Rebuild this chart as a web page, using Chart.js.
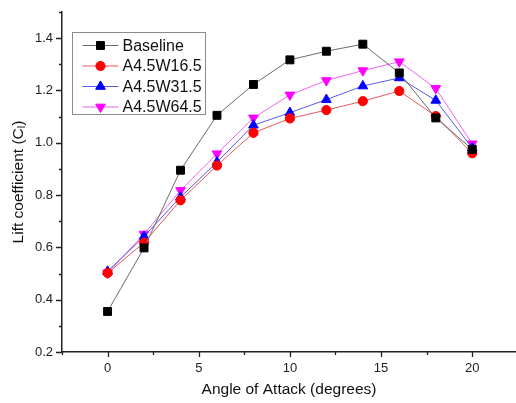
<!DOCTYPE html>
<html>
<head>
<meta charset="utf-8">
<script src="https://cdn.jsdelivr.net/npm/chart.js@4/dist/chart.umd.min.js"></script>
<style>
  html, body { margin: 0; padding: 0; background: #fff; overflow: hidden; }
  #wrap { width: 516px; height: 403px; position: relative; }
</style>
</head>
<body>
<div id="wrap"><canvas id="c" width="516" height="403"></canvas></div>
<script>
// Angle of attack (degrees)
const angles = [0, 2, 4, 6, 8, 10, 12, 14, 16, 18, 20];

// Lift coefficient per configuration
const baseline = [0.355, 0.598, 0.895, 1.105, 1.223, 1.317, 1.350, 1.377, 1.267, 1.095, 0.975];
const a45w165  = [0.502, 0.618, 0.780, 0.913, 1.038, 1.093, 1.125, 1.159, 1.198, 1.102, 0.960];
const a45w315  = [0.508, 0.642, 0.792, 0.926, 1.067, 1.115, 1.165, 1.217, 1.248, 1.162, 0.980];
const a45w645  = [0.502, 0.651, 0.818, 0.958, 1.095, 1.183, 1.238, 1.276, 1.310, 1.208, 0.996];

// Axis ticks (major ones get labels)
const xTicks = [-2.5, 0, 2.5, 5, 7.5, 10, 12.5, 15, 17.5, 20];
const xLabeled = [0, 5, 10, 15, 20];
const yTicks = [0.2, 0.3, 0.4, 0.5, 0.6, 0.7, 0.8, 0.9, 1.0, 1.1, 1.2, 1.3, 1.4, 1.5];
const yLabeled = [0.2, 0.4, 0.6, 0.8, 1.0, 1.2, 1.4];

const seriesNames = ['Baseline', 'A4.5W16.5', 'A4.5W31.5', 'A4.5W64.5'];

const FONT = "'Liberation Sans', Arial, sans-serif";
const pts = arr => angles.map((a, i) => ({ x: a, y: arr[i] }));
const near = (v, list) => list.some(t => Math.abs(t - v) < 1e-6);

function series(label, data, line, fill, style, radius, rotation) {
  return {
    label, data: pts(data),
    borderColor: line, borderWidth: 1,
    pointStyle: style, pointRadius: radius, pointHoverRadius: radius,
    pointRotation: rotation || 0,
    pointBackgroundColor: fill, pointBorderColor: fill, pointBorderWidth: 1,
    tension: 0, fill: false
  };
}

const datasets = [
  series(seriesNames[0], baseline, '#6a6a6a', '#000000', 'rect', 5.6),
  series(seriesNames[1], a45w165, '#e65a5a', '#ff0000', 'circle', 4.6),
  series(seriesNames[2], a45w315, '#5a5ae6', '#0000ff', 'triangle', 5.6),
  series(seriesNames[3], a45w645, '#ee66ee', '#ff00ff', 'triangle', 5.6, 180)
];

// Outward tick marks: long for labelled values, short for the rest
const tickMarks = {
  id: 'tickMarks',
  afterDraw(chart) {
    const ctx = chart.ctx;
    const xs = chart.scales.x, ys = chart.scales.y;
    ctx.save();
    ctx.strokeStyle = '#222';
    ctx.lineWidth = 1.3;
    ctx.beginPath();
    xTicks.forEach(v => {
      const px = Math.round(xs.getPixelForValue(v)) + 0.5;
      const len = near(v, xLabeled) ? 5 : 3;
      ctx.moveTo(px, xs.top);
      ctx.lineTo(px, xs.top + len);
    });
    yTicks.forEach(v => {
      const py = Math.round(ys.getPixelForValue(v)) + 0.5;
      const len = near(v, yLabeled) ? 6 : 3;
      ctx.moveTo(ys.right, py);
      ctx.lineTo(ys.right - len, py);
    });
    ctx.stroke();
    ctx.restore();
  }
};

// Boxed legend with line + marker samples, inside the plot
const boxLegend = {
  id: 'boxLegend',
  afterDraw(chart) {
    const ctx = chart.ctx;
    const ca = chart.chartArea;
    const x0 = ca.left + 10.5, y0 = ca.top + 20.5, w = 133, h = 82;
    ctx.save();
    ctx.strokeStyle = '#8a8a8a';
    ctx.lineWidth = 1;
    ctx.strokeRect(x0, y0, w, h);
    chart.data.datasets.forEach((ds, i) => {
      const y = y0 + 13 + i * 20.5;
      ctx.strokeStyle = ds.borderColor;
      ctx.lineWidth = 1;
      ctx.beginPath();
      ctx.moveTo(x0 + 10, y);
      ctx.lineTo(x0 + 46, y);
      ctx.stroke();
      ctx.fillStyle = ds.pointBackgroundColor;
      ctx.strokeStyle = ds.pointBorderColor;
      Chart.helpers.drawPoint(ctx, {
        pointStyle: ds.pointStyle, radius: ds.pointRadius,
        rotation: ds.pointRotation, borderWidth: 1
      }, x0 + 28, y);
      ctx.fillStyle = '#111';
      ctx.font = '16px ' + FONT;
      ctx.textBaseline = 'middle';
      ctx.textAlign = 'left';
      ctx.fillText(ds.label, x0 + 50, y + 1);
    });
    ctx.restore();
  }
};

// Rotated y-axis title with a subscript
const yTitle = {
  id: 'yTitle',
  afterDraw(chart) {
    const ctx = chart.ctx;
    const ca = chart.chartArea;
    const big = '15.5px ' + FONT, small = '11px ' + FONT;
    const parts = [['Lift coefficient (C', big, 0], ['l', small, 3], [')', big, 0]];
    ctx.save();
    let total = 0;
    parts.forEach(p => { ctx.font = p[1]; total += ctx.measureText(p[0]).width; });
    ctx.translate(18, (ca.top + ca.bottom) / 2);
    ctx.rotate(-Math.PI / 2);
    ctx.fillStyle = '#111';
    ctx.textBaseline = 'middle';
    ctx.textAlign = 'left';
    let x = -total / 2;
    parts.forEach(p => {
      ctx.font = p[1];
      ctx.fillText(p[0], x, p[2] + 1);
      x += ctx.measureText(p[0]).width;
    });
    ctx.restore();
  }
};

new Chart(document.getElementById('c'), {
  type: 'line',
  data: { datasets },
  options: {
    responsive: false,
    animation: false,
    layout: { autoPadding: false, padding: { top: 12, right: 0, left: 0, bottom: 0 } },
    plugins: { legend: { display: false }, tooltip: { enabled: false } },
    scales: {
      x: {
        type: 'linear', min: -2.5, max: 22.4,
        afterBuildTicks: s => { s.ticks = xTicks.map(v => ({ value: v })); },
        afterFit: s => { s.height = 51; s.paddingLeft = 0; s.paddingRight = 0; },
        grid: { drawOnChartArea: false, drawTicks: false },
        border: { color: '#222', width: 1.5 },
        ticks: {
          autoSkip: false, maxRotation: 0, padding: 9,
          color: '#222', font: { family: FONT, size: 13 },
          callback: v => near(v, xLabeled) ? String(Math.round(v)) : ''
        },
        title: {
          display: true, text: 'Angle of Attack (degrees)',
          color: '#111', font: { family: FONT, size: 15.5 }, padding: { top: 5 }
        }
      },
      y: {
        type: 'linear', min: 0.2, max: 1.5,
        afterBuildTicks: s => { s.ticks = yTicks.map(v => ({ value: v })); },
        afterFit: s => { s.width = 62; s.paddingTop = 0; s.paddingBottom = 0; },
        grid: { drawOnChartArea: false, drawTicks: false },
        border: { color: '#222', width: 1.5 },
        ticks: {
          autoSkip: false, padding: 9,
          color: '#222', font: { family: FONT, size: 13 },
          callback: v => near(v, yLabeled) ? v.toFixed(1) : ''
        }
      }
    }
  },
  plugins: [tickMarks, boxLegend, yTitle]
});
</script>
</body>
</html>
